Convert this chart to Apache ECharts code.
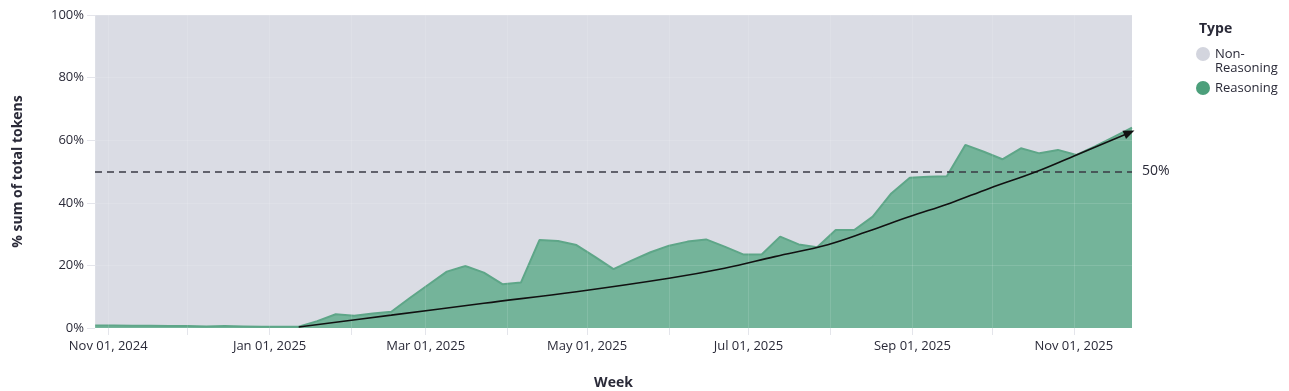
<!DOCTYPE html>
<html>
<head>
<meta charset="utf-8">
<script src="https://cdn.jsdelivr.net/npm/echarts@6/dist/echarts.min.js"></script>
<style>
  html, body { margin: 0; padding: 0; background: #ffffff; }
  #chart { width: 1289px; height: 391px; }
</style>
</head>
<body>
<div id="chart"></div>
<script>
// Weekly categories (week start dates)
const weeks = [
  '2024-10-27','2024-11-03','2024-11-10','2024-11-17','2024-11-24',
  '2024-12-01','2024-12-08','2024-12-15','2024-12-22','2024-12-29',
  '2025-01-05','2025-01-12','2025-01-19','2025-01-26',
  '2025-02-02','2025-02-09','2025-02-16','2025-02-23',
  '2025-03-02','2025-03-09','2025-03-16','2025-03-23','2025-03-30',
  '2025-04-06','2025-04-13','2025-04-20','2025-04-27',
  '2025-05-04','2025-05-11','2025-05-18','2025-05-25',
  '2025-06-01','2025-06-08','2025-06-15','2025-06-22','2025-06-29',
  '2025-07-06','2025-07-13','2025-07-20','2025-07-27',
  '2025-08-03','2025-08-10','2025-08-17','2025-08-24','2025-08-31',
  '2025-09-07','2025-09-14','2025-09-21','2025-09-28',
  '2025-10-05','2025-10-12','2025-10-19','2025-10-26',
  '2025-11-02','2025-11-09','2025-11-16','2025-11-23'
];

// % of total tokens that are Reasoning, per week
const reasoning = [
  0.8, 0.8, 0.7, 0.7, 0.6,
  0.6, 0.5, 0.6, 0.5, 0.4,
  0.4, 0.4, 2.2, 4.4,
  3.9, 4.6, 5.2, 9.6,
  13.8, 18.0, 19.8, 17.7, 14.0,
  14.5, 28.1, 27.8, 26.5,
  22.7, 18.8, 21.6, 24.2,
  26.3, 27.6, 28.3, 26.0, 23.5,
  23.5, 29.2, 26.7, 25.8,
  31.3, 31.3, 35.6, 43.0, 48.0,
  48.3, 48.5, 58.5, 56.3,
  53.9, 57.4, 55.8, 56.9,
  55.3, 58.0, 61.0, 64.0
];

// Non-Reasoning share is the remainder of 100%
const nonReasoning = reasoning.map(v => +(100 - v).toFixed(1));

// Trend arrow
const trendDates = [
  '2025-01-12','2025-02-16','2025-03-23','2025-04-27','2025-06-01',
  '2025-06-22','2025-07-11','2025-07-31','2025-08-15','2025-08-31',
  '2025-09-15','2025-09-30','2025-10-18','2025-11-02','2025-11-22'
];
const trendValues = [
  0.3, 4.1, 7.9, 11.6, 15.9,
  19.1, 22.8, 26.6, 30.8, 35.6,
  39.8, 44.6, 50.0, 55.3, 62.4
];

const yTicks = [0, 20, 40, 60, 80, 100];
const refLevel = 50;

const FONT = '"Open Sans", "Noto Sans", sans-serif';
const TXT = '#2a2a38';
const MONTHS = ['Jan','Feb','Mar','Apr','May','Jun','Jul','Aug','Sep','Oct','Nov','Dec'];

const chart = echarts.init(document.getElementById('chart'), null, { renderer: 'canvas' });

const trendData = trendDates.map((d, i) => {
  const item = { value: [d, trendValues[i]] };
  if (i === trendDates.length - 1) {
    item.symbol = 'triangle';
    item.symbolSize = [9, 11];
  }
  return item;
});

const option = {
  backgroundColor: '#ffffff',
  animation: false,
  textStyle: { fontFamily: FONT },
  title: {
    text: 'Type',
    left: 1194,
    top: 17,
    textStyle: { fontFamily: FONT, fontSize: 14, fontWeight: 'bold', color: TXT }
  },
  legend: {
    orient: 'vertical',
    left: 1196,
    top: 33,
    padding: 0,
    itemGap: 6,
    itemWidth: 14,
    itemHeight: 14,
    icon: 'circle',
    data: ['Non-Reasoning', 'Reasoning'],
    formatter: name => name === 'Non-Reasoning' ? '\nNon-\nReasoning' : name,
    textStyle: { fontFamily: FONT, fontSize: 13, color: TXT, lineHeight: 14 }
  },
  grid: { left: 95, right: 157, top: 15, bottom: 63, outerBoundsMode: 'none', containLabel: false },
  xAxis: {
    type: 'time',
    min: weeks[0],
    max: weeks[weeks.length - 1],
    splitNumber: 14,
    z: 5,
    name: 'Week',
    nameLocation: 'middle',
    nameGap: 48,
    nameTextStyle: { fontFamily: FONT, fontSize: 14, fontWeight: 'bold', color: TXT },
    axisLine: { show: false },
    axisTick: { show: true, length: 7, lineStyle: { color: '#e4e5eb' } },
    minorTick: { show: false },
    splitLine: { show: true, lineStyle: { color: 'rgba(255,255,255,0.12)', width: 1 } },
    axisLabel: {
      margin: 12,
      fontFamily: FONT,
      fontSize: 13,
      color: TXT,
      hideOverlap: false,
      formatter: function (value) {
        const d = new Date(value);
        if (d.getDate() !== 1 || d.getMonth() % 2 !== 0) return '';
        return MONTHS[d.getMonth()] + ' 01, ' + d.getFullYear();
      }
    }
  },
  yAxis: {
    type: 'value',
    min: yTicks[0],
    max: yTicks[yTicks.length - 1],
    interval: yTicks[1] - yTicks[0],
    z: 5,
    name: '% sum of total tokens',
    nameLocation: 'middle',
    nameGap: 70,
    nameTextStyle: { fontFamily: FONT, fontSize: 14, fontWeight: 'bold', color: TXT },
    axisLine: { show: false },
    axisTick: { show: true, length: 8, lineStyle: { color: '#e4e5eb' } },
    splitLine: { show: true, lineStyle: { color: 'rgba(255,255,255,0.12)', width: 1 } },
    axisLabel: {
      margin: 11,
      fontFamily: FONT,
      fontSize: 13,
      color: TXT,
      formatter: '{value}%'
    }
  },
  series: [
    {
      name: 'Reasoning',
      type: 'line',
      stack: 'share',
      symbol: 'none',
      data: weeks.map((d, i) => [d, reasoning[i]]),
      itemStyle: { color: '#4c9f7b' },
      lineStyle: { color: '#5ea688', width: 2 },
      areaStyle: { color: '#74b49a', opacity: 1 },
      z: 2
    },
    {
      name: 'Non-Reasoning',
      type: 'line',
      stack: 'share',
      symbol: 'none',
      data: weeks.map((d, i) => [d, nonReasoning[i]]),
      itemStyle: { color: '#d3d5de' },
      lineStyle: { width: 0 },
      areaStyle: { color: '#dadce4', opacity: 1 },
      z: 1
    },
    {
      name: 'Trend',
      type: 'line',
      smooth: 0.4,
      symbol: 'none',
      showSymbol: true,
      data: trendData,
      itemStyle: { color: '#111111' },
      lineStyle: { color: '#111111', width: 1.6 },
      z: 8,
      silent: true,
      markLine: {
        silent: true,
        symbol: ['none', 'none'],
        data: [{ yAxis: refLevel }],
        lineStyle: { color: '#3a3a44', type: [7, 5], width: 1.5 },
        label: {
          show: true,
          position: 'end',
          distance: 10,
          formatter: refLevel + '%',
          fontFamily: FONT,
          fontSize: 14,
          color: TXT
        }
      }
    }
  ]
};

chart.setOption(option);

// Rotate the arrowhead along the final segment of the trend curve
const n = trendDates.length;
const p1 = chart.convertToPixel({ gridIndex: 0 }, [trendDates[n - 2], trendValues[n - 2]]);
const p2 = chart.convertToPixel({ gridIndex: 0 }, [trendDates[n - 1], trendValues[n - 1]]);
const ang = Math.atan2(-(p2[1] - p1[1]), p2[0] - p1[0]) * 180 / Math.PI;
trendData[n - 1].symbolRotate = ang - 90;
chart.setOption({ series: [{}, {}, { data: trendData }] });
</script>
</body>
</html>
